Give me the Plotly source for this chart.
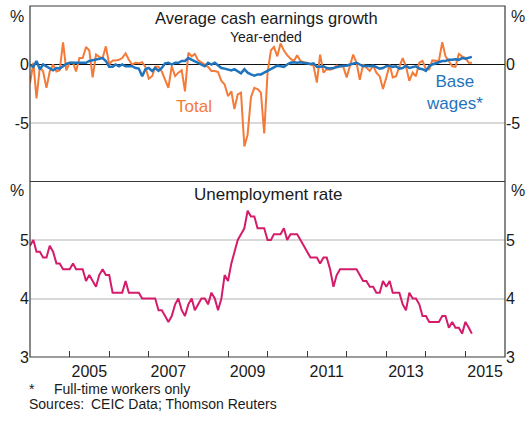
import pandas as pd
import plotly.graph_objects as go

# ---------------- data ----------------
start_month = "2004-01-01"

total_growth = [
    -1.6, 0.15, -2.9, -0.2, -0.6, -2.0, -0.6, 0.0, -0.6, -0.5,
    1.9, -0.5, 0.15, 0.15, -0.6, 0.55, 0.55, 1.5, 1.2, -1.1,
    0.85, 0.65, 0.55, 1.55, 0.0, 0.35, 0.35, 0.4, 0.55, 0.95,
    0.4, 0.0, 0.15, 0.1, 0.2, -0.2, -1.2, -1.0, -0.2, -0.2,
    -0.6, -1.3, -2.0, -0.15, -1.0, -0.7, -0.5, -2.3, 1.0, 0.7,
    0.9, 0.35, 0.15, 0.0, -0.2, -0.55, -0.55, -0.65, -1.4, -1.7,
    -2.7, -2.3, -3.8, -2.55, -2.4, -7.0, -6.0, -2.8, -2.0, -2.1,
    -2.4, -5.9, -0.7, 1.2, 1.5, 0.7, 1.8, 1.2, 0.8, 0.5,
    0.3, 0.8, 0.3, 0.2, 0.15, 0.0, -0.1, -1.55, 0.85, -0.7,
    -0.4, -0.45, -0.35, -0.1, -0.15, -0.2, -1.1, 0.0, 0.85, 0.15,
    -1.3, 0.0, -0.3, -0.55, -0.1, -0.7, -1.0, -2.1, -1.1, 0.0,
    -1.1, -1.0, -0.2, 0.55, -0.15, -1.4, -0.7, -1.0, 0.15, 0.3,
    -0.4, -0.4, 0.35, 0.35, 0.3, 1.9, 0.7, 0.3, -0.15, -0.2,
    0.9, 0.7, 0.55, 0.15, 0.15,
]

base_wages_growth = [
    0.0, -0.2, 0.3, -0.4, 0.0, -0.15, -0.35, -0.5, -0.3, -0.35,
    -0.15, 0.05, 0.15, 0.15, 0.15, 0.15, 0.2, 0.15, 0.3, 0.35,
    0.4, 0.5, 0.55, 0.3, -0.2, -0.2, 0.0, -0.15, 0.0, -0.15,
    -0.15, -0.15, -0.3, -0.35, -1.0, -0.4, -0.3, -0.55, -0.3, -0.55,
    -0.3, 0.1, 0.15, 0.0, 0.15, 0.15, 0.3, 0.3, 0.55, 0.4,
    0.3, 0.15, 0.0, -0.15, 0.15, 0.0, 0.15, -0.1, -0.3, -0.35,
    -0.4, -0.5, -0.4, -0.55, -0.75, -0.4, -0.7, -0.85, -0.95, -0.85,
    -0.85, -0.7, -0.55, -0.4, -0.3, -0.1, -0.15, -0.2, 0.0, 0.15,
    0.2, 0.15, 0.2, 0.15, 0.1, 0.05, 0.1, -0.2, -0.2, -0.15,
    -0.3, -0.35, -0.3, -0.2, -0.15, -0.1, -0.1, 0.0, 0.05, 0.15,
    0.0, -0.15, -0.1, -0.15, -0.1, -0.2, -0.35, -0.3, -0.15, -0.1,
    -0.2, -0.15, -0.35, -0.3, -0.1, -0.3, -0.2, -0.15, -0.35, -0.4,
    -0.55, -0.15, 0.0, 0.1, 0.15, 0.3, 0.3, 0.4, 0.4, 0.45,
    0.4, 0.55, 0.5, 0.55, 0.65,
]

unemployment_rate = [
    4.9, 5.0, 4.8, 4.8, 4.7, 4.7, 4.9, 4.8, 4.6, 4.6,
    4.5, 4.5, 4.5, 4.6, 4.5, 4.5, 4.5, 4.3, 4.4, 4.3,
    4.2, 4.4, 4.5, 4.4, 4.4, 4.1, 4.1, 4.1, 4.1, 4.3,
    4.1, 4.1, 4.1, 4.1, 4.0, 4.0, 4.0, 4.0, 4.0, 3.8,
    3.8, 3.7, 3.6, 3.7, 3.9, 4.0, 3.8, 3.7, 3.9, 4.0,
    3.8, 3.9, 4.0, 4.0, 3.9, 4.1, 4.0, 3.8, 4.0, 4.4,
    4.3, 4.6, 4.8, 5.0, 5.1, 5.2, 5.5, 5.4, 5.4, 5.2,
    5.2, 5.2, 5.0, 5.0, 5.1, 5.1, 5.1, 5.2, 5.0, 5.1,
    5.1, 5.1, 5.0, 4.9, 4.8, 4.7, 4.7, 4.7, 4.6, 4.7,
    4.7, 4.5, 4.2, 4.4, 4.5, 4.5, 4.5, 4.5, 4.5, 4.5,
    4.4, 4.3, 4.3, 4.2, 4.2, 4.1, 4.1, 4.3, 4.2, 4.3,
    4.1, 4.1, 4.1, 3.9, 3.8, 4.1, 4.0, 4.0, 3.9, 3.7,
    3.7, 3.6, 3.6, 3.6, 3.6, 3.7, 3.7, 3.5, 3.6, 3.5,
    3.5, 3.4, 3.6, 3.5, 3.4,
]

year_labels = ["2005", "2007", "2009", "2011", "2013", "2015"]
year_ticks = [str(y) for y in range(2005, 2016)]
top_ticks = [0, -5]
bottom_ticks = [3, 4, 5]

months = pd.date_range(start_month, periods=len(total_growth), freq="MS")
um_months = pd.date_range(start_month, periods=len(unemployment_rate), freq="MS")

# ---------------- styles ----------------
FONT = "Arial, 'Liberation Sans', Helvetica, sans-serif"
TXT = "#1a1a1a"
ORANGE = "#F47A38"
BLUE = "#1F74BD"
MAGENTA = "#D41C6A"
GRID = "#d9d9d9"
FRAME = "#3a3a3a"

fig = go.Figure()

fig.add_trace(go.Scatter(x=months, y=total_growth, mode="lines",
                         line=dict(color=ORANGE, width=2), xaxis="x2", yaxis="y",
                         showlegend=False, hoverinfo="skip"))
fig.add_trace(go.Scatter(x=months, y=base_wages_growth, mode="lines",
                         line=dict(color=BLUE, width=2.5), xaxis="x2", yaxis="y",
                         showlegend=False, hoverinfo="skip"))
fig.add_trace(go.Scatter(x=um_months, y=unemployment_rate, mode="lines",
                         line=dict(color=MAGENTA, width=2), xaxis="x", yaxis="y2",
                         showlegend=False, hoverinfo="skip"))
# invisible traces so the right-hand mirror axes are drawn
fig.add_trace(go.Scatter(x=months, y=total_growth, mode="lines", opacity=0,
                         line=dict(width=0), xaxis="x2", yaxis="y3",
                         showlegend=False, hoverinfo="skip"))
fig.add_trace(go.Scatter(x=um_months, y=unemployment_rate, mode="lines", opacity=0,
                         line=dict(width=0), xaxis="x", yaxis="y4",
                         showlegend=False, hoverinfo="skip"))

xrange = ["2004-01-01", "2016-01-01"]
tickfont = dict(family=FONT, size=16, color=TXT)

fig.update_layout(
    width=531, height=434,
    margin=dict(l=30, r=26, t=6, b=77),
    paper_bgcolor="white", plot_bgcolor="white",
    font=dict(family=FONT, color=TXT),
    xaxis=dict(domain=[0, 1], anchor="y2", type="date", range=xrange,
               tickvals=[f"{y}-07-01" for y in year_labels], ticktext=year_labels,
               ticks="", showgrid=False, zeroline=False, showline=False,
               tickfont=tickfont, ticklabelstandoff=3,
               minor=dict(tickvals=[f"{y}-01-01" for y in year_ticks],
                          ticks="inside", ticklen=6, tickwidth=1,
                          tickcolor=FRAME, showgrid=False)),
    xaxis2=dict(domain=[0, 1], anchor="y", type="date", range=xrange,
                matches="x", showticklabels=False, ticks="", showgrid=False,
                zeroline=False, showline=False),
    yaxis=dict(domain=[0.5, 1], anchor="x2", range=[-10, 5],
               tickvals=top_ticks, ticktext=[str(v) for v in top_ticks],
               ticks="", showgrid=True, gridcolor=GRID, gridwidth=1.5,
               zeroline=True, zerolinecolor="#111", zerolinewidth=1,
               showline=False, tickfont=tickfont),
    yaxis3=dict(overlaying="y", side="right", anchor="x2", range=[-10, 5],
                tickvals=top_ticks, ticktext=[str(v) for v in top_ticks],
                ticks="", showgrid=False, zeroline=False, showline=False,
                tickfont=tickfont),
    yaxis2=dict(domain=[0, 0.5], anchor="x", range=[3, 6],
                tickvals=bottom_ticks, ticktext=[str(v) for v in bottom_ticks],
                ticks="", showgrid=True, gridcolor=GRID, gridwidth=1.5,
                zeroline=False, showline=False, tickfont=tickfont),
    yaxis4=dict(overlaying="y2", side="right", anchor="x", range=[3, 6],
                tickvals=bottom_ticks, ticktext=[str(v) for v in bottom_ticks],
                ticks="", showgrid=False, zeroline=False, showline=False,
                tickfont=tickfont),
    shapes=[
        dict(type="rect", xref="paper", yref="paper", x0=0, x1=1, y0=0, y1=1,
             line=dict(color=FRAME, width=1.2), layer="above"),
        dict(type="line", xref="paper", yref="paper", x0=0, x1=1, y0=0.5, y1=0.5,
             line=dict(color=FRAME, width=1.2), layer="above"),
    ],
)

ann = []
# unit labels
for yv, ys in [(1, -10), (0.5, -9)]:
    ann.append(dict(text="%", xref="paper", yref="paper", x=0, y=yv, xanchor="right",
                    yanchor="middle", xshift=-4, yshift=ys, showarrow=False,
                    font=dict(size=16, color=TXT)))
    ann.append(dict(text="%", xref="paper", yref="paper", x=1, y=yv, xanchor="left",
                    yanchor="middle", xshift=4, yshift=ys, showarrow=False,
                    font=dict(size=16, color=TXT)))
# panel titles
ann.append(dict(text="Average cash earnings growth", xref="paper", yref="paper",
                x=0.497, y=1, yanchor="middle", yshift=-12, showarrow=False,
                font=dict(size=16.5, color=TXT)))
ann.append(dict(text="Year-ended", xref="paper", yref="paper", x=0.497, y=1,
                yanchor="middle", yshift=-31, showarrow=False,
                font=dict(size=14, color=TXT)))
ann.append(dict(text="Unemployment rate", xref="paper", yref="paper", x=0.5, y=0.5,
                yanchor="middle", yshift=-13, showarrow=False,
                font=dict(size=17, color=TXT)))
# series labels
ann.append(dict(text="Total", xref="x2", yref="y", x="2008-02-20", y=-3.55,
                showarrow=False, font=dict(size=17, color=ORANGE)))
ann.append(dict(text="Base<br>wages*", xref="x2", yref="y", x="2014-09-25", y=-2.37,
                showarrow=False, font=dict(size=17, color=BLUE)))
# footnotes
ann.append(dict(text="*", xref="paper", yref="paper", x=-0.006, y=0, yshift=-32,
                xanchor="left", yanchor="middle", showarrow=False,
                font=dict(size=14, color=TXT)))
ann.append(dict(text="Full-time workers only", xref="paper", yref="paper", x=0.046,
                y=0, yshift=-32, xanchor="left", yanchor="middle", showarrow=False,
                font=dict(size=14, color=TXT)))
ann.append(dict(text="Sources:", xref="paper", yref="paper", x=-0.006, y=0,
                yshift=-47, xanchor="left", yanchor="middle", showarrow=False,
                font=dict(size=14, color=TXT)))
ann.append(dict(text="CEIC Data; Thomson Reuters", xref="paper", yref="paper",
                x=0.124, y=0, yshift=-47, xanchor="left", yanchor="middle",
                showarrow=False, font=dict(size=14, color=TXT)))
fig.update_layout(annotations=ann)

# remove the browser's default page margin so the figure sits at the top-left corner
fig.write_html("out.html", config={"displayModeBar": False},
               post_script="document.body.style.margin='0';document.body.style.padding='0';")
